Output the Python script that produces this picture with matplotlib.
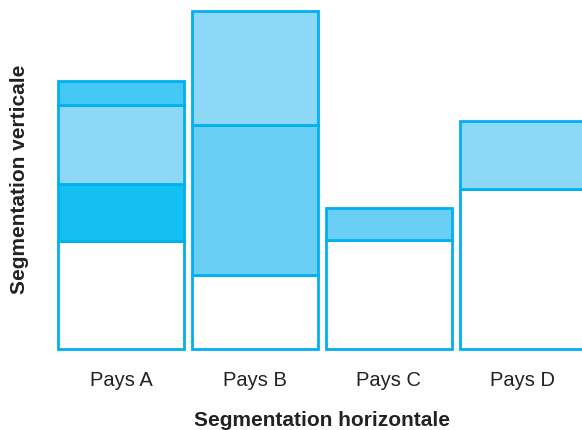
import matplotlib.pyplot as plt
import numpy as np

plt.rcParams['font.family'] = ['Liberation Sans', 'DejaVu Sans']

countries = ["Pays A", "Pays B", "Pays C", "Pays D"]
# stacked segments, bottom to top (values in arbitrary units)
segments = [
    [108, 57, 79, 24],
    [74, 150, 114],
    [109, 32],
    [160, 68],
]
colors = [
    ["#ffffff", "#14c0f2", "#8dd8f6", "#44c8f4"],
    ["#ffffff", "#6bcff5", "#8dd8f6"],
    ["#ffffff", "#6bcff5"],
    ["#ffffff", "#8dd8f6"],
]
edge = "#00b0f0"

fig = plt.figure(figsize=(5.82, 4.31), dpi=100)
ax = fig.add_axes([0, 81 / 431, 1, 350 / 431])

x = np.arange(len(countries))
for i, segs in enumerate(segments):
    bottom = 0
    for v, c in zip(segs, colors[i]):
        ax.bar(x[i], v, width=0.94, bottom=bottom, color=c,
               edgecolor=edge, linewidth=2, clip_on=False)
        bottom += v

ax.set_xlim(-121 / 134, (582 - 121) / 134)
ax.set_ylim(0, 350)
for s in ax.spines.values():
    s.set_visible(False)
ax.set_yticks([])
ax.set_xticks(x)
ax.set_xticklabels(countries, fontsize=14.5, color="#222222")
ax.tick_params(axis="x", length=0, pad=15)

fig.text(322 / 582, 1 - 421 / 431, "Segmentation horizontale", ha="center",
         va="center", fontsize=15, fontweight="bold", color="#222222")
fig.text(20 / 582, 1 - 179 / 431, "Segmentation verticale", ha="center",
         va="center", rotation=90, fontsize=15, fontweight="bold",
         color="#222222")

plt.savefig("out.png", dpi=100)
